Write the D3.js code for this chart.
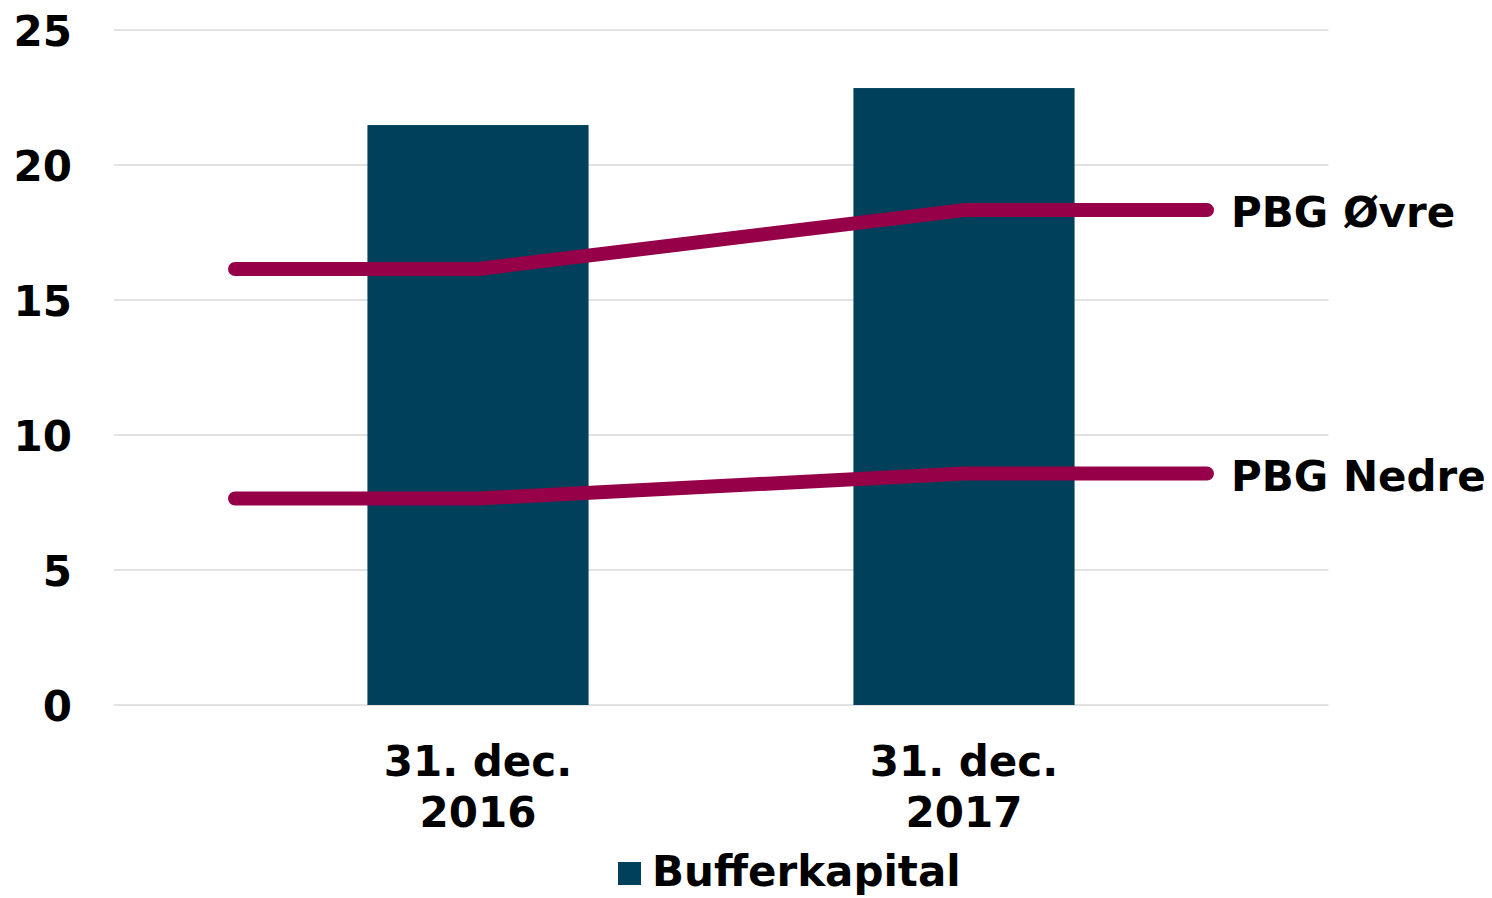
<!DOCTYPE html>
<html>
<head>
<meta charset="utf-8">
<script src="https://cdn.jsdelivr.net/npm/d3@7"></script>
<style>
  html, body { margin: 0; padding: 0; background: #ffffff; }
  svg { display: block; }
  text { font-family: "DejaVu Sans", Verdana, sans-serif; font-weight: bold; fill: #000; }
</style>
</head>
<body>
<svg id="chart" width="1492" height="898"></svg>
<script>
const categories = ["31. dec.|2016", "31. dec.|2017"];
const bufferkapital = [21.48, 22.85];
const pbgOvre = [16.15, 18.33];
const pbgNedre = [7.65, 8.57];
const yTicks = [0, 5, 10, 15, 20, 25];
const seriesNames = { bar: "Bufferkapital", upper: "PBG Øvre", lower: "PBG Nedre" };

const svg = d3.select("#chart");
const plotLeft = 114, plotRight = 1328.5;
const fontSize = "42px";

const y = d3.scaleLinear().domain([0, 25]).range([705, 30]);
const x = d3.scaleBand().domain(categories).range([235, 1207]).padding(0);
const bw = x.bandwidth() * 0.455;

const barColor = "#00405A";
const lineColor = "#960048";

// gridlines
svg.append("g").selectAll("line").data(yTicks).join("line")
  .attr("x1", plotLeft).attr("x2", plotRight)
  .attr("y1", d => y(d)).attr("y2", d => y(d))
  .attr("stroke", "#d9d9d9").attr("stroke-width", 1.5);

// y axis labels
const yAxis = d3.axisLeft(y).tickValues(yTicks).tickSize(0).tickPadding(0);
const gy = svg.append("g").attr("transform", "translate(72,0)").call(yAxis);
gy.select(".domain").remove();
gy.selectAll("text")
  .attr("x", 0).attr("dy", "0.36em")
  .style("font-family", '"DejaVu Sans", Verdana, sans-serif')
  .style("font-weight", "bold").style("font-size", fontSize).attr("fill", "#000");

// bars
svg.append("g").selectAll("rect").data(categories).join("rect")
  .attr("x", d => x(d) + x.bandwidth() / 2 - bw / 2)
  .attr("width", bw)
  .attr("y", (d, i) => y(bufferkapital[i]))
  .attr("height", (d, i) => y(0) - y(bufferkapital[i]))
  .attr("fill", barColor);

// lines
function linePoints(vals) {
  const pts = [];
  pts.push([x(categories[0]), vals[0]]);
  categories.forEach((c, i) => pts.push([x(c) + x.bandwidth() / 2, vals[i]]));
  const last = categories[categories.length - 1];
  pts.push([x(last) + x.bandwidth(), vals[vals.length - 1]]);
  return pts;
}
const lineGen = d3.line().x(d => d[0]).y(d => y(d[1]));
[pbgOvre, pbgNedre].forEach(vals => {
  svg.append("path").datum(linePoints(vals))
    .attr("d", lineGen)
    .attr("fill", "none").attr("stroke", lineColor)
    .attr("stroke-width", 14).attr("stroke-linecap", "round").attr("stroke-linejoin", "round");
});

// line labels
const lastX = x(categories[1]) + x.bandwidth();
[[pbgOvre, seriesNames.upper], [pbgNedre, seriesNames.lower]].forEach(([vals, name]) => {
  svg.append("text")
    .attr("x", lastX + 24).attr("y", y(vals[vals.length - 1]) + 2)
    .attr("dy", "0.36em").style("font-size", fontSize)
    .text(name);
});

// category labels
const cat = svg.append("g").selectAll("text").data(categories).join("text")
  .attr("text-anchor", "middle")
  .attr("x", d => x(d) + x.bandwidth() / 2)
  .attr("y", 776).style("font-size", fontSize);
cat.each(function(d) {
  const parts = d.split("|");
  const t = d3.select(this);
  parts.forEach((p, i) => {
    t.append("tspan").attr("x", x(d) + x.bandwidth() / 2).attr("y", 776 + i * 51).text(p);
  });
});

// legend
svg.append("rect").attr("x", 618).attr("y", 862).attr("width", 23).attr("height", 23).attr("fill", barColor);
svg.append("text").attr("x", 652).attr("y", 886).style("font-size", fontSize).text(seriesNames.bar);
</script>
</body>
</html>
